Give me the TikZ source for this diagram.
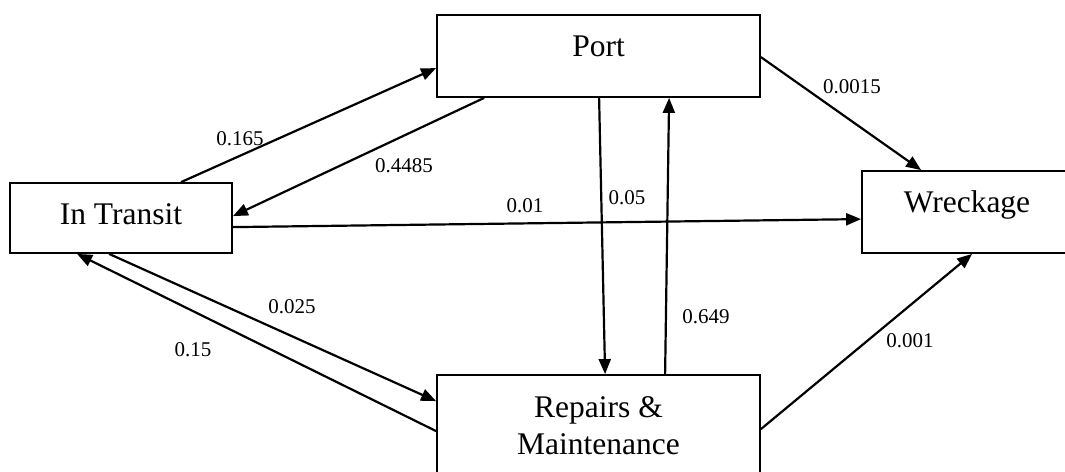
\documentclass[tikz,border=0pt]{standalone}
\usepackage{fontspec}
\setmainfont{Liberation Serif}
\usetikzlibrary{arrows.meta,calc}

\tikzset{
  state/.style={draw, line width=1.8pt, inner sep=0pt, align=center,
    font=\fontsize{31.5}{37}\selectfont},
  flow/.style={line width=2.2pt, -{Triangle[length=15pt,width=12pt]}},
  rate/.style={anchor=base, inner sep=0pt, font=\fontsize{21}{24}\selectfont}
}

\begin{document}
\begin{tikzpicture}[x=1pt, y=-1pt]
  \clip (0,0) rectangle (1065,471);

  % states
  \node[state, minimum width=222pt, minimum height=70pt,
        text height=22pt, text depth=10pt] (T) at (121,218) {In Transit};
  \node[state, minimum width=323pt, minimum height=82pt,
        text height=20pt, text depth=20pt] (P) at (598.5,56) {Port};
  \node[state, minimum width=210pt, minimum height=82pt,
        text height=20pt, text depth=20pt] (W) at (967,212) {Wreckage};
  \node[state, minimum width=323pt, minimum height=102pt] (R) at (598.5,426)
        {Repairs \&\\Maintenance};

  % transitions
  \draw[flow] ($(T.north west)+(172,0)$) -- ($(P.north west)+(0,54)$);
  \draw[flow] ($(P.south west)+(48,0)$)  -- ($(T.north east)+(0,34)$);
  \draw[flow] ($(T.north east)+(0,45)$)  -- ($(W.north west)+(0,49)$);
  \draw[flow] ($(P.south west)+(163,0)$) -- ($(R.north west)+(169,0)$);
  \draw[flow] ($(R.north west)+(229,0)$) -- ($(P.south west)+(233,0)$);
  \draw[flow] ($(P.north east)+(0,43)$)  -- ($(W.north west)+(60,0)$);
  \draw[flow] ($(R.north east)+(0,55)$)  -- ($(W.south west)+(111,0)$);
  \draw[flow] ($(T.south west)+(100,0)$) -- ($(R.north west)+(0,27)$);
  \draw[flow] ($(R.north west)+(0,57)$)  -- ($(T.south west)+(68,0)$);

  % transition probabilities
  \node[rate] (l1) at (240,145) {0.165};
  \node[rate] (l2) at (404,172) {0.4485};
  \node[rate] (l3) at (525,212) {0.01};
  \node[rate] (l4) at (627,204) {0.05};
  \node[rate] (l5) at (706,323) {0.649};
  \node[rate] (l6) at (852,93)  {0.0015};
  \node[rate] (l7) at (910,347) {0.001};
  \node[rate] (l8) at (292,313) {0.025};
  \node[rate] (l9) at (193,356) {0.15};
\end{tikzpicture}
\end{document}
